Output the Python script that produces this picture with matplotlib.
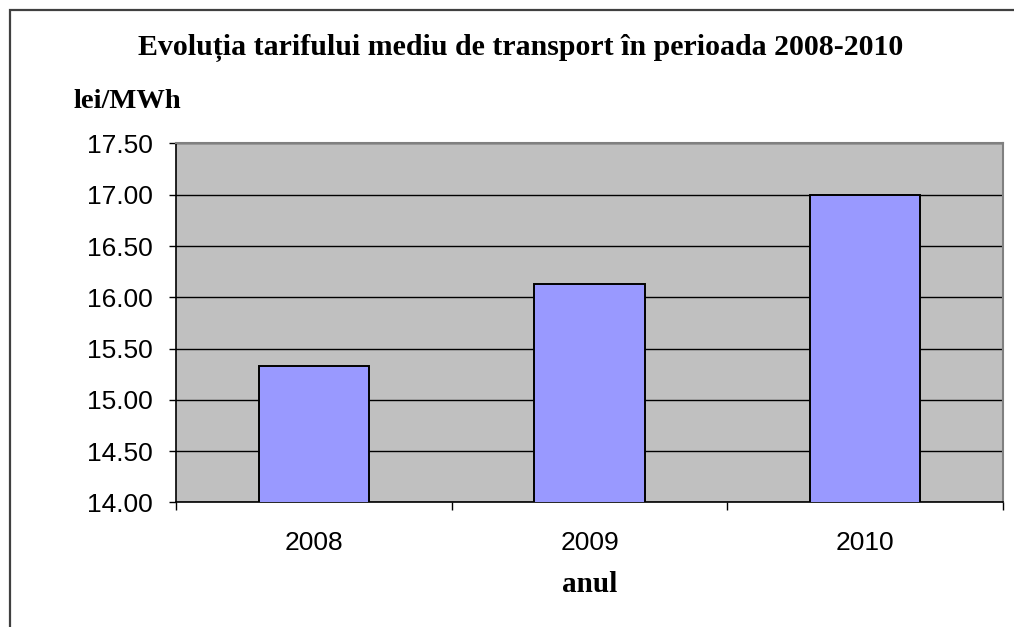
import matplotlib
matplotlib.use("Agg")
import matplotlib.pyplot as plt
from matplotlib.patches import Rectangle

years = ["2008", "2009", "2010"]
tarif = [15.33, 16.13, 17.00]
yticks = [14.00, 14.50, 15.00, 15.50, 16.00, 16.50, 17.00, 17.50]

W, H = 1014, 627
fig = plt.figure(figsize=(W / 100, H / 100), dpi=100)

# outer chart frame (runs off right/bottom edge like the source)
fig.patches.append(Rectangle((10 / W, -0.1), 1.2, (H - 10) / H + 0.1, transform=fig.transFigure,
                             fill=False, edgecolor="#404040", linewidth=1.6))

ax = fig.add_axes([176 / W, (H - 502.3) / H, 827 / W, (502.3 - 143.5) / H])
ax.set_facecolor("#C0C0C0")
ax.set_axisbelow(True)

x = range(len(years))
ax.bar(x, tarif, width=0.4, color="#9999FF", edgecolor="black", linewidth=1.4, zorder=3)

ax.set_ylim(14, 17.5)
ax.set_yticks(yticks)
ax.set_yticklabels([f"{v:.2f}" for v in yticks], fontfamily="Liberation Sans", fontsize=19)
ax.yaxis.grid(True, color="black", linewidth=1.0)
ax.tick_params(axis="y", direction="out", length=5, width=1, pad=12)

ax.set_xlim(-0.5, len(years) - 0.5)
ax.set_xticks([i - 0.5 for i in range(len(years) + 1)])
ax.set_xticklabels([])
ax.set_xticks(list(x), minor=True)
ax.set_xticklabels(years, minor=True, fontfamily="Liberation Sans", fontsize=19)
ax.tick_params(axis="x", which="major", direction="out", length=6, width=1)
ax.tick_params(axis="x", which="minor", length=0, pad=21)

for s in ["left", "bottom"]:
    ax.spines[s].set_color("black")
    ax.spines[s].set_linewidth(1.2)
for s in ["top", "right"]:
    ax.spines[s].set_color("#808080")
    ax.spines[s].set_linewidth(1.5)

fig.text(521 / W, 1 - 48 / H, "Evoluția tarifului mediu de transport în perioada 2008-2010",
         ha="center", va="center", fontfamily="Liberation Serif", fontweight="bold", fontsize=21.5)
fig.text(74 / W, 1 - 101 / H, "lei/MWh", ha="left", va="center",
         fontfamily="Liberation Serif", fontweight="bold", fontsize=20.5)
fig.text(590 / W, 1 - 585 / H, "anul", ha="center", va="center",
         fontfamily="Liberation Serif", fontweight="bold", fontsize=21)

fig.savefig("out.png", dpi=100)
